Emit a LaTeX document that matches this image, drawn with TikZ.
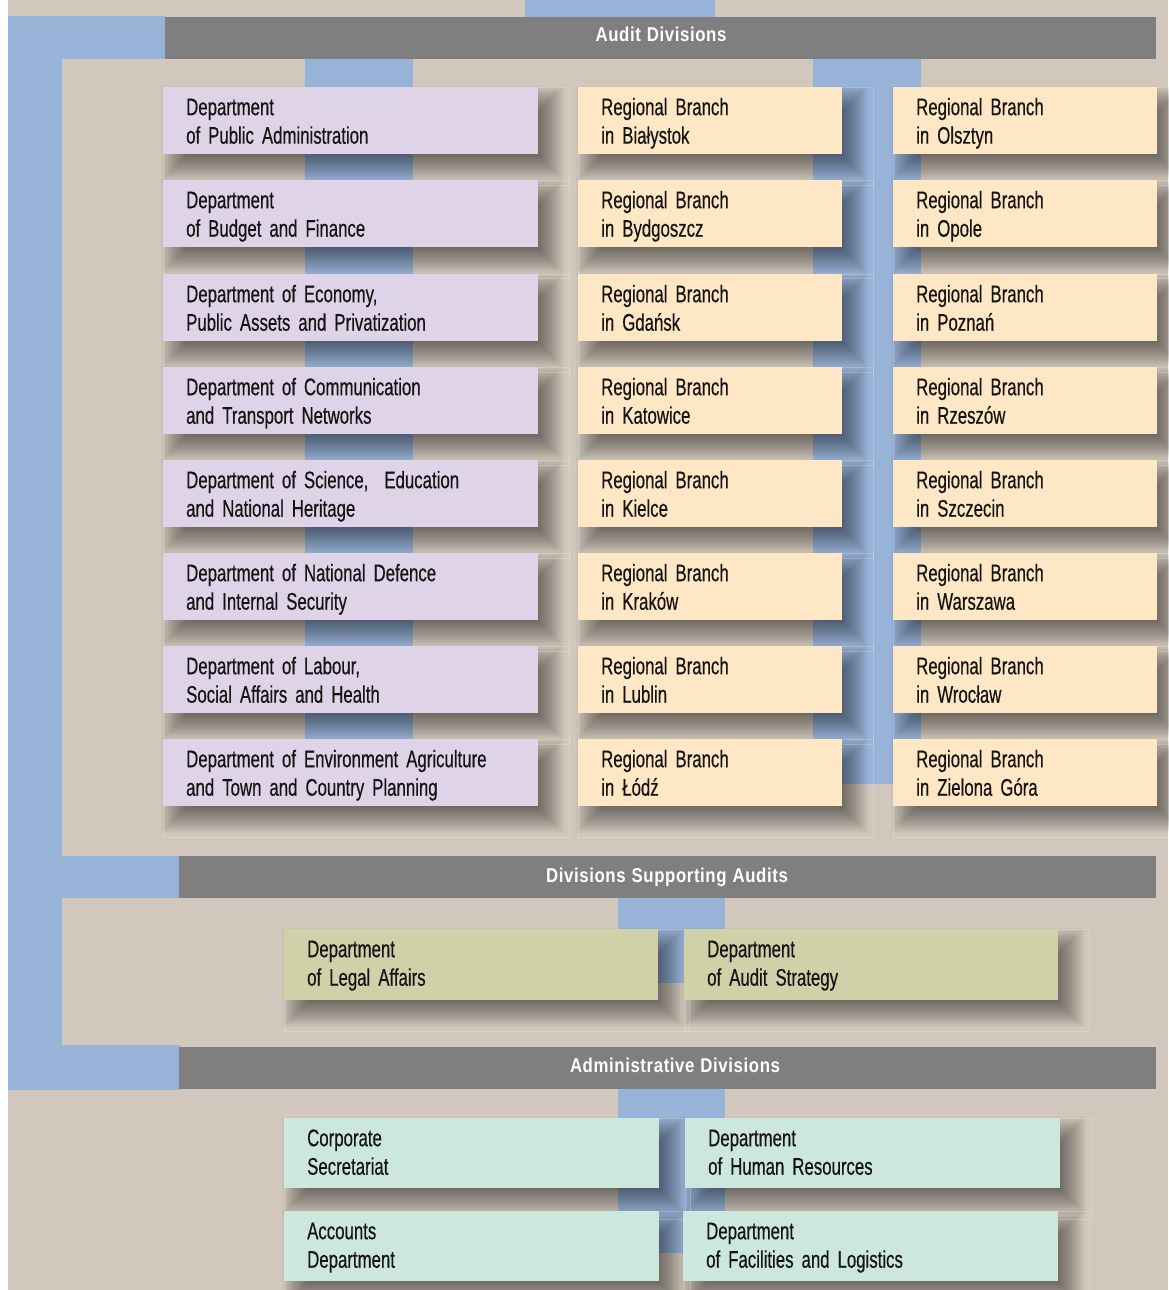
\documentclass[tikz,border=0pt]{standalone}
\usepackage{fontspec}
\setmainfont[FakeStretch=0.70, FakeBold=0.4]{Liberation Sans}
\newfontfamily\hdrfont[FakeStretch=0.84, LetterSpace=3]{Liberation Sans}
\usetikzlibrary{calc}
\definecolor{bgbeige}{HTML}{D1C7BC}
\definecolor{barblue}{HTML}{97B3D7}
\definecolor{bargray}{HTML}{7F7F80}
\definecolor{boxpurple}{HTML}{DFD3E8}
\definecolor{boxpeach}{HTML}{FEE7C5}
\definecolor{boxolive}{HTML}{D0D1A9}
\definecolor{boxmint}{HTML}{CCE7DC}
\definecolor{txt}{HTML}{141414}
\pgfdeclarelayer{bg}
\pgfdeclarelayer{shade}
\pgfsetlayers{bg,shade,main}
\newcommand\myUnitShade[1]{%
  \foreach \r in {-14,-13,...,14} {%
    \fill[black, fill opacity=0.018] ($(#1.north west)+(12-\r,13-\r)$) rectangle ($(#1.south east)+(12+\r,13+\r)$);
  }%
}
\newcommand\myUnitFrame[1]{%
  \draw[white, draw opacity=0.2, line width=0.8pt] (#1.north west) rectangle ($(#1.south east)+(31,31)$);
}
\newcommand\myBodyFont{\fontsize{24}{28.5}\selectfont\spaceskip=4.6pt plus 1pt minus 1pt\relax\xspaceskip=4.6pt\relax}
\newcommand\myHeadFont{\hdrfont\bfseries\fontsize{20}{24}\selectfont\spaceskip=6pt\relax}
\tikzset{
  unitbox/.style={anchor=north west, inner xsep=23pt, inner ysep=0pt, align=left,
    text=txt, font=\myBodyFont, text height=28pt},
  deptbox/.style={unitbox, fill=boxpurple, text width=329pt, text depth=39pt},
  branchbox/.style={unitbox, fill=boxpeach, text width=218pt, text depth=39pt},
  supportbox/.style={unitbox, fill=boxolive, text width=328pt, text depth=43pt},
  adminbox/.style={unitbox, fill=boxmint, text width=329pt, text depth=42pt},
  header/.style={anchor=base, text=white, font=\myHeadFont, inner sep=0pt},
}
\begin{document}
\begin{tikzpicture}[x=1pt, y=-1pt]
\useasboundingbox (0,0) rectangle (1168,1290);
\begin{pgfonlayer}{bg}
  \fill[white] (0,0) rectangle (8,1290);
  \fill[bgbeige] (8,0) rectangle (1168,1290);
  % blue connectors
  \fill[barblue] (525,0) rectangle (715,17);
  \fill[barblue] (8,16) rectangle (62,1090);
  \fill[barblue] (8,16) rectangle (166,59);
  \fill[barblue] (305,59) rectangle (413,739);
  \fill[barblue] (813,59) rectangle (921,784);
  \fill[barblue] (8,856) rectangle (180,898);
  \fill[barblue] (618,898) rectangle (725,983);
  \fill[barblue] (8,1045) rectangle (180,1090);
  \fill[barblue] (618,1089) rectangle (725,1221);
  \fill[barblue] (618,1221) rectangle (683,1253);
  % header bars
  \fill[bargray] (165,17) rectangle (1156,59);
  \fill[bargray] (179,856) rectangle (1156,898);
  \fill[bargray] (179,1047) rectangle (1156,1089);
\end{pgfonlayer}

\node[header] (hA) at (661,42) {Audit Divisions};
\node[header] (hS) at (667,882) {Divisions Supporting Audits};
\node[header] (hD) at (675,1072) {Administrative Divisions};

% Column 1: departments
\node[deptbox] (d1) at (163,87)  {Department\\of Public Administration};
\node[deptbox] (d2) at (163,180) {Department\\of Budget and Finance};
\node[deptbox] (d3) at (163,274) {Department of Economy,\\Public Assets and Privatization};
\node[deptbox] (d4) at (163,367) {Department of Communication\\and Transport Networks};
\node[deptbox] (d5) at (163,460) {Department of Science,\ \ Education\\and National Heritage};
\node[deptbox] (d6) at (163,553) {Department of National Defence\\and Internal Security};
\node[deptbox] (d7) at (163,646) {Department of Labour,\\Social Affairs and Health};
\node[deptbox] (d8) at (163,739) {Department of Environment Agriculture\\and Town and Country Planning};

% Column 2: regional branches
\node[branchbox] (b1) at (578,87)  {Regional Branch\\in Białystok};
\node[branchbox] (b2) at (578,180) {Regional Branch\\in Bydgoszcz};
\node[branchbox] (b3) at (578,274) {Regional Branch\\in Gdańsk};
\node[branchbox] (b4) at (578,367) {Regional Branch\\in Katowice};
\node[branchbox] (b5) at (578,460) {Regional Branch\\in Kielce};
\node[branchbox] (b6) at (578,553) {Regional Branch\\in Kraków};
\node[branchbox] (b7) at (578,646) {Regional Branch\\in Lublin};
\node[branchbox] (b8) at (578,739) {Regional Branch\\in Łódź};

% Column 3: regional branches
\node[branchbox] (c1) at (893,87)  {Regional Branch\\in Olsztyn};
\node[branchbox] (c2) at (893,180) {Regional Branch\\in Opole};
\node[branchbox] (c3) at (893,274) {Regional Branch\\in Poznań};
\node[branchbox] (c4) at (893,367) {Regional Branch\\in Rzeszów};
\node[branchbox] (c5) at (893,460) {Regional Branch\\in Szczecin};
\node[branchbox] (c6) at (893,553) {Regional Branch\\in Warszawa};
\node[branchbox] (c7) at (893,646) {Regional Branch\\in Wrocław};
\node[branchbox] (c8) at (893,739) {Regional Branch\\in Zielona Góra};

% Supporting divisions
\node[supportbox] (s1) at (284,929) {Department\\of Legal Affairs};
\node[supportbox] (s2) at (684,929) {Department\\of Audit Strategy};

% Administrative divisions
\node[adminbox] (a1) at (284,1118) {Corporate\\Secretariat};
\node[adminbox] (a2) at (685,1118) {Department\\of Human Resources};
\node[adminbox] (a3) at (284,1211) {Accounts\\Department};
\node[adminbox] (a4) at (683,1211) {Department\\of Facilities and Logistics};

\begin{pgfonlayer}{shade}
  \foreach \n in {d1,d2,d3,d4,d5,d6,d7,d8,b1,b2,b3,b4,b5,b6,b7,b8,c1,c2,c3,c4,c5,c6,c7,c8,s1,s2,a1,a2,a3,a4} {\myUnitShade{\n}}
  \foreach \n in {d1,d2,d3,d4,d5,d6,d7,d8,b1,b2,b3,b4,b5,b6,b7,b8,c1,c2,c3,c4,c5,c6,c7,c8,s1,s2,a1,a2,a3,a4} {\myUnitFrame{\n}}
\end{pgfonlayer}
\end{tikzpicture}
\end{document}
